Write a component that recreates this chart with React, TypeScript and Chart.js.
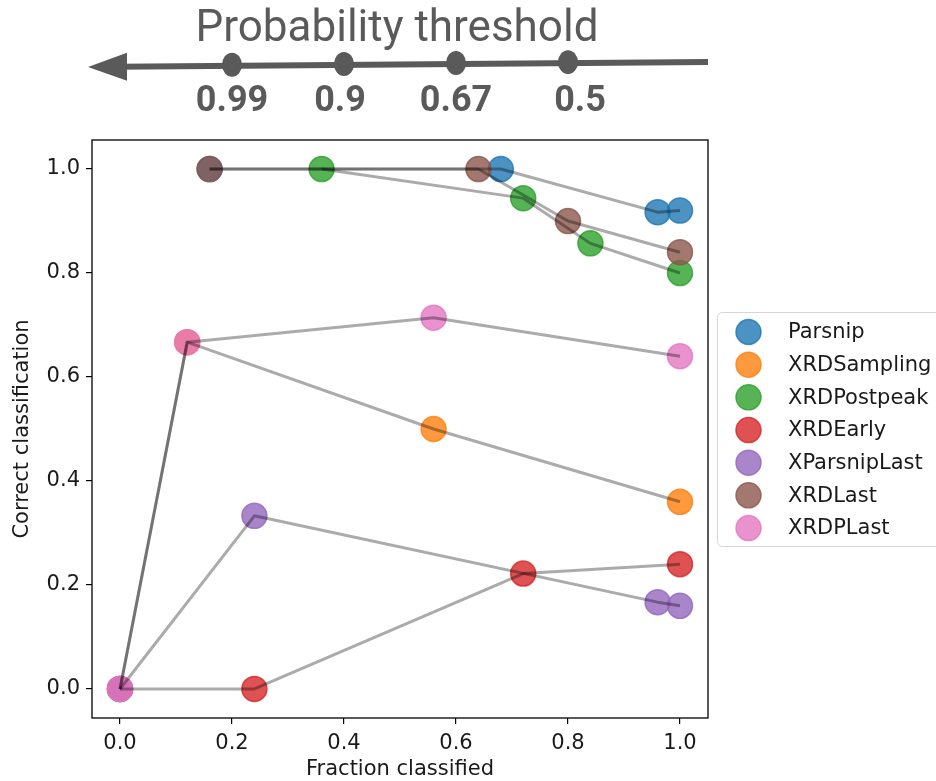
import React, { useEffect, useRef } from "react";
import { Chart, registerables } from "chart.js";

Chart.register(...registerables);

// ---- data ----
const seriesNames = ["Parsnip", "XRDSampling", "XRDPostpeak", "XRDEarly", "XParsnipLast", "XRDLast", "XRDPLast"];
const seriesColors = ["31,119,180", "255,127,14", "44,160,44", "214,39,40", "148,103,189", "140,86,75", "227,119,194"];

const parsnipX = [0.16, 0.68, 0.96, 1.0];
const parsnipY = [1.0, 1.0, 0.917, 0.92];
const samplingX = [0.0, 0.12, 0.56, 1.0];
const samplingY = [0.0, 0.667, 0.5, 0.36];
const postpeakX = [0.36, 0.72, 0.84, 1.0];
const postpeakY = [1.0, 0.944, 0.857, 0.8];
const earlyX = [0.0, 0.24, 0.72, 1.0];
const earlyY = [0.0, 0.0, 0.222, 0.24];
const parsnipLastX = [0.0, 0.24, 0.96, 1.0];
const parsnipLastY = [0.0, 0.333, 0.167, 0.16];
const lastX = [0.16, 0.64, 0.8, 1.0];
const lastY = [1.0, 1.0, 0.9, 0.84];
const pLastX = [0.0, 0.12, 0.56, 1.0];
const pLastY = [0.0, 0.667, 0.714, 0.64];

const seriesX = [parsnipX, samplingX, postpeakX, earlyX, parsnipLastX, lastX, pLastX];
const seriesY = [parsnipY, samplingY, postpeakY, earlyY, parsnipLastY, lastY, pLastY];

const xTicks = [0.0, 0.2, 0.4, 0.6, 0.8, 1.0];
const yTicks = [0.0, 0.2, 0.4, 0.6, 0.8, 1.0];

const thresholdLabels = ["0.99", "0.9", "0.67", "0.5"];
const thresholdPositions = [0.2, 0.4, 0.6, 0.8];

const FONT = '"DejaVu Sans", sans-serif';
const TEXT = "#1a1a1a";

const overlayPlugin = {
  id: "overlay",
  afterDraw(chart: any) {
    const ctx = chart.ctx;
    const a = chart.chartArea;
    const xs = chart.scales.x;
    ctx.save();
    // frame
    ctx.strokeStyle = "#000";
    ctx.lineWidth = 1.3;
    ctx.strokeRect(a.left, a.top, a.right - a.left, a.bottom - a.top);

    // legend
    const lx = 717.5, ly = 312.5, lw = 240, lh = 234;
    ctx.beginPath();
    ctx.roundRect(lx, ly, lw, lh, 5);
    ctx.fillStyle = "rgba(255,255,255,0.8)";
    ctx.fill();
    ctx.strokeStyle = "#d5d5d5";
    ctx.lineWidth = 1;
    ctx.stroke();
    ctx.font = "21px " + FONT;
    ctx.textBaseline = "middle";
    ctx.textAlign = "left";
    seriesNames.forEach((name, i) => {
      const cy = 332 + i * 32.67;
      ctx.beginPath();
      ctx.arc(748.5, cy, 12.5, 0, Math.PI * 2);
      ctx.fillStyle = `rgba(${seriesColors[i]},0.8)`;
      ctx.fill();
      ctx.strokeStyle = `rgba(${seriesColors[i]},0.8)`;
      ctx.lineWidth = 1.5;
      ctx.stroke();
      ctx.fillStyle = TEXT;
      ctx.fillText(name, 788, cy + 1);
    });

    // probability threshold annotation
    const grey = "#5a5a5a";
    const yAt = (px: number) => 62 + (708 - px) * (5 / 620);
    ctx.strokeStyle = grey;
    ctx.fillStyle = grey;
    ctx.lineWidth = 6;
    ctx.beginPath();
    ctx.moveTo(708, yAt(708));
    ctx.lineTo(118, yAt(118));
    ctx.stroke();
    ctx.beginPath();
    ctx.moveTo(88, yAt(88));
    ctx.lineTo(127, yAt(127) - 14);
    ctx.lineTo(127, yAt(127) + 14);
    ctx.closePath();
    ctx.fill();
    ctx.font = "bold 36px Roboto, sans-serif";
    ctx.textAlign = "center";
    ctx.textBaseline = "middle";
    thresholdPositions.forEach((p, i) => {
      const px = xs.getPixelForValue(p);
      ctx.beginPath();
      ctx.ellipse(px, yAt(px) - 1, 10, 12, 0, 0, Math.PI * 2);
      ctx.fill();
      ctx.fillText(thresholdLabels[i], px + (i === 3 ? 12 : i === 1 ? -4 : 0), 102);
    });
    ctx.font = "44px Roboto, sans-serif";
    ctx.textBaseline = "alphabetic";
    ctx.fillText("Probability threshold", 397, 41);
    ctx.restore();
  },
};

export default function App() {
  const ref = useRef<HTMLCanvasElement | null>(null);
  useEffect(() => {
    if (!ref.current) return;
    const datasets: any[] = [];
    seriesNames.forEach((name, i) => {
      const pts = seriesX[i].map((x, j) => ({ x, y: seriesY[i][j] }));
      datasets.push({
        label: name,
        data: pts,
        showLine: false,
        pointRadius: 12.5,
        pointHoverRadius: 12.5,
        pointBackgroundColor: `rgba(${seriesColors[i]},0.8)`,
        pointBorderColor: `rgba(${seriesColors[i]},0.8)`,
        pointBorderWidth: 1.5,
        order: seriesNames.length - i,
        clip: false,
      });
      datasets.push({
        label: name + " line",
        data: pts,
        showLine: true,
        pointRadius: 0,
        pointHoverRadius: 0,
        borderColor: "rgba(0,0,0,0.33)",
        borderWidth: 3,
        borderJoinStyle: "round",
        fill: false,
        order: 0,
        clip: false,
      });
    });
    const tickFont = { family: FONT, size: 21 };
    const chart = new Chart(ref.current, {
      type: "scatter",
      data: { datasets },
      options: {
        animation: false,
        responsive: true,
        maintainAspectRatio: false,
        layout: { padding: { top: 140, right: 228, left: 0, bottom: 0 } },
        plugins: { legend: { display: false }, tooltip: { enabled: false } },
        scales: {
          x: {
            type: "linear",
            min: -0.05,
            max: 1.05,
            afterBuildTicks: (s: any) => {
              s.ticks = xTicks.map((v) => ({ value: v }));
            },
            afterFit: (s: any) => {
              s.height = 63;
            },
            ticks: {
              font: tickFont,
              color: TEXT,
              padding: 7,
              callback: (v: any) => Number(v).toFixed(1),
            },
            grid: { display: true, drawOnChartArea: false, drawTicks: true, tickLength: 6, color: "#000", lineWidth: 1.2 },
            border: { display: false },
            title: { display: true, text: "Fraction classified", font: tickFont, color: TEXT, padding: { top: 0, bottom: -1 } },
          },
          y: {
            type: "linear",
            min: -0.0558,
            max: 1.0558,
            afterBuildTicks: (s: any) => {
              s.ticks = yTicks.map((v) => ({ value: v }));
            },
            afterFit: (s: any) => {
              s.width = 92;
            },
            ticks: {
              font: tickFont,
              color: TEXT,
              padding: 6,
              callback: (v: any) => Number(v).toFixed(1),
            },
            grid: { display: true, drawOnChartArea: false, drawTicks: true, tickLength: 6, color: "#000", lineWidth: 1.2 },
            border: { display: false },
            title: { display: true, text: "Correct classification", font: tickFont, color: TEXT, padding: { top: 10, bottom: 0 } },
          },
        },
      },
      plugins: [overlayPlugin],
    } as any);
    return () => chart.destroy();
  }, []);
  return (
    <div style={{ position: "absolute", left: 0, top: 0, width: 936, height: 781, background: "#fff" }}>
      <canvas ref={ref} />
    </div>
  );
}
